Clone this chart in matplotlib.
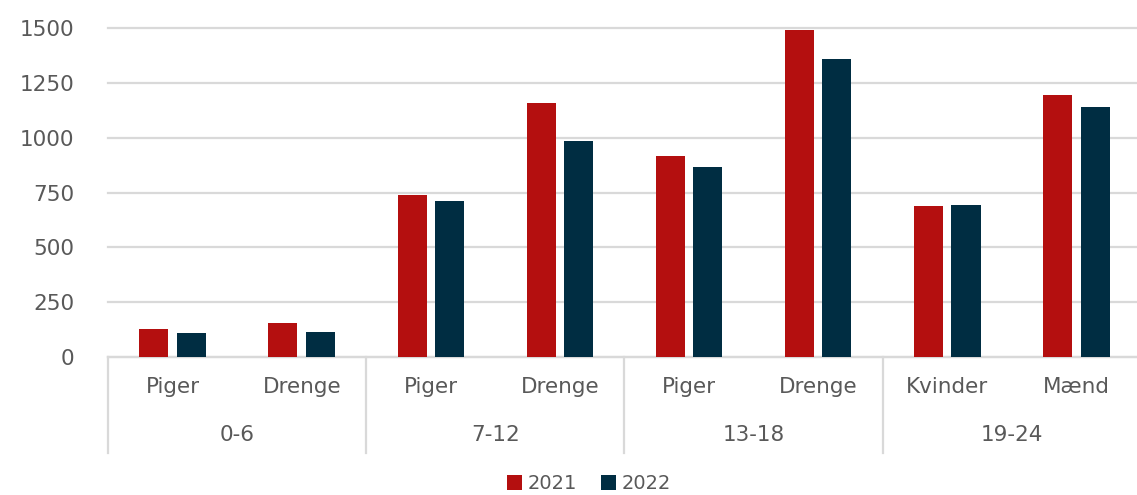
import numpy as np
from matplotlib import pyplot as plt
from matplotlib import transforms

groups = ["0-6", "7-12", "13-18", "19-24"]
categories = ["Piger", "Drenge", "Piger", "Drenge", "Piger", "Drenge", "Kvinder", "Mænd"]
years = ["2021", "2022"]
v2021 = [126, 153, 738, 1159, 917, 1494, 690, 1196]
v2022 = [110, 114, 710, 986, 866, 1359, 695, 1141]

red = "#B40F0F"
navy = "#002D42"
txt = "#595959"
grid = "#D9D9D9"

fig = plt.figure(figsize=(11.37, 4.95), dpi=100)
ax = fig.add_axes([0.095, 0.2794, 0.9085, 0.6634])

x = np.arange(len(categories))
w = 0.225
off = 0.145
ax.bar(x - off, v2021, w, color=red, label=years[0], zorder=3)
ax.bar(x + off, v2022, w, color=navy, label=years[1], zorder=3)

ax.set_xlim(-0.5, len(categories) - 0.5)
ax.set_ylim(0, 1500)
ax.set_yticks(range(0, 1501, 250))
ax.yaxis.grid(True, color=grid, linewidth=1.6, zorder=0)
for gl in ax.get_ygridlines():
    gl.set_clip_on(False)
for s in ["top", "right", "left"]:
    ax.spines[s].set_visible(False)
ax.spines["bottom"].set_color(grid)
ax.spines["bottom"].set_linewidth(1.6)
ax.tick_params(axis="y", length=0, labelsize=15.5, labelcolor=txt, pad=24)
ax.tick_params(axis="x", length=0, labelbottom=False)

trans = transforms.blended_transform_factory(ax.transData, ax.transAxes)
for i, c in enumerate(categories):
    ax.text(i, -0.092, c, transform=trans, ha="center", va="center",
            fontsize=15.5, color=txt)
for g, name in enumerate(groups):
    ax.text(2 * g + 0.5, -0.238, name, transform=trans, ha="center", va="center",
            fontsize=15.5, color=txt)
for b in range(len(groups) + 1):
    ax.plot([2 * b - 0.5, 2 * b - 0.5], [0, -0.293], transform=trans,
            color=grid, linewidth=1.6, clip_on=False)

fig.legend(loc="lower center", bbox_to_anchor=(589 / 1137, -0.02), ncol=2, frameon=False,
           fontsize=14, labelcolor=txt, handlelength=0.8, handleheight=0.8,
           handletextpad=0.3, columnspacing=1.2, borderpad=0.1)

fig.savefig("out.png", dpi=100)
